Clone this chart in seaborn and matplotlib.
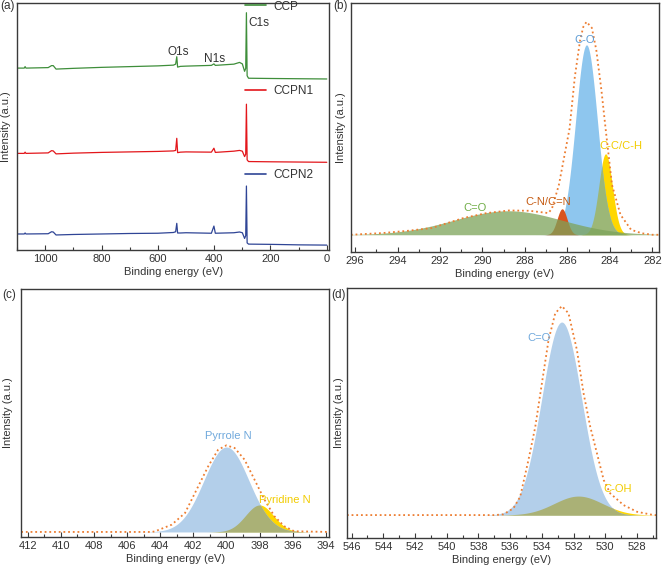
import numpy as np
import pandas as pd
import matplotlib
matplotlib.use('Agg')
import matplotlib.pyplot as plt
from matplotlib.ticker import MultipleLocator
from matplotlib.lines import Line2D
from matplotlib.legend import Legend
import seaborn as sns

# ---- (a) survey spectra (stacked, a.u.) ----
be_survey = [1100, 1075, 1072, 1069, 990, 978, 972, 962, 900, 800, 700, 600, 545, 537, 533,
             530, 520, 500, 410, 401, 396, 330, 310, 300, 292, 288, 285.5, 283, 278, 200, 100, 0]
ccp = [73.6, 73.6, 74.2, 73.6, 73.8, 74.6, 74.6, 73.2, 73.5, 73.9, 74.2, 74.5, 74.8, 75.2, 78.2,
       74.0, 74.3, 74.4, 74.7, 75.3, 74.7, 75.2, 75.9, 75.3, 72.3, 73.5, 96.0, 70.5, 69.5, 69.4, 69.3, 69.2]
ccpn1 = [39.1, 39.1, 39.6, 39.1, 39.3, 40.2, 40.1, 38.9, 39.2, 39.5, 39.7, 39.9, 40.1, 40.3, 45.2,
         39.4, 39.6, 39.7, 39.6, 41.2, 39.5, 40.0, 40.3, 40.0, 37.8, 38.8, 59.0, 36.5, 35.8, 35.7, 35.6, 35.5]
ccpn2 = [6.5, 6.5, 6.9, 6.5, 6.6, 7.4, 7.3, 6.1, 6.3, 6.5, 6.7, 6.8, 7.1, 7.4, 10.8,
         6.9, 6.9, 7.0, 6.8, 9.7, 6.8, 7.0, 7.3, 7.0, 4.7, 5.8, 25.9, 2.9, 2.4, 2.3, 2.1, 2.0]
survey_names = ['CCP', 'CCPN1', 'CCPN2']
survey_colors = ['#3e8e3a', '#e3161b', '#2f4596']

# ---- (b) C1s fit: center (eV), height, FWHM ----
c1s_names = ['C-C/C-H', 'C-O', 'C-N/C=N', 'C=O']
c1s_center = [284.2, 285.1, 286.25, 288.8]
c1s_height = [81, 190, 26, 24]
c1s_fwhm = [0.75, 1.2, 0.55, 6.0]
c1s_env_be = [296.2, 294.7, 293.5, 292.4, 290.9, 289.8, 288.75, 287.8, 286.9, 286.73, 286.4,
              286.15, 285.9, 285.65, 285.4, 285.25, 285.1, 284.85, 284.64, 284.4, 284.2, 283.9,
              283.5, 283.0, 282.5, 282.0, 281.7]
c1s_env = [0, 1.7, 4, 6.7, 16.7, 21.7, 24.3, 24, 21.7, 26, 50, 78, 106, 158, 195, 208, 213,
           207, 185, 145, 106, 50, 20, 5, 1.5, 0, 0]

# ---- (c) N1s fit ----
n1s_names = ['Pyrrole N', 'Pyridine N']
n1s_center = [400.0, 398.0]
n1s_height = [85, 27]
n1s_fwhm = [3.2, 2.0]
n1s_env_be = [412.4, 404.5, 404.3, 403.3, 402.5, 401.7, 401.1, 400.5, 400.0, 399.5, 398.9,
              398.3, 397.7, 397.1, 396.5, 395.9, 393.8]
n1s_env = [0, 0, 0.7, 7.3, 19, 45.7, 65.7, 82.3, 86.7, 84, 72.3, 52.3, 32.3, 15.7, 5.7, 0.7, 0]

# ---- (d) O1s fit ----
o1s_names = ['C=O', 'C-OH']
o1s_center = [532.75, 531.7]
o1s_height = [193, 19]
o1s_fwhm = [2.95, 3.6]
o1s_env_be = [546.3, 537.0, 536.43, 535.8, 535.37, 534.85, 534.42, 534.0, 533.58, 533.16,
              532.74, 532.32, 531.79, 531.37, 530.95, 530.42, 530.1, 529.69, 528.85, 528.0,
              526.95, 526.8]
o1s_env = [0, 0, 0.7, 6.7, 18.3, 55, 88, 131.7, 175, 201.7, 209, 201.7, 165, 121.7, 88.3,
           55, 35, 21.7, 10, 3.3, 0, 0]

sns.set_theme(style='ticks')
plt.rcParams['font.family'] = ['Liberation Sans', 'DejaVu Sans']
plt.rcParams['axes.edgecolor'] = '#3a3a3a'
plt.rcParams['axes.linewidth'] = 1.0

fig = plt.figure(figsize=(6.62, 5.67), dpi=100)
ax_a = fig.add_axes([0.026, 0.559, 0.471, 0.436])
ax_b = fig.add_axes([0.530, 0.556, 0.465, 0.439])
ax_c = fig.add_axes([0.032, 0.053, 0.465, 0.437])
ax_d = fig.add_axes([0.524, 0.051, 0.467, 0.441])

FS = 8


def gauss(x, c, h, w):
    return h * np.exp(-4 * np.log(2) * (x - c) ** 2 / w ** 2)


def style(ax, xlim, ylim, ylab_x):
    ax.set_xlim(*xlim)
    ax.set_ylim(*ylim)
    ax.set_yticks([])
    ax.xaxis.set_major_locator(MultipleLocator(200 if xlim[0] > 1000 else 2))
    ax.xaxis.set_minor_locator(MultipleLocator(100 if xlim[0] > 1000 else 1))
    ax.tick_params(axis='x', which='major', direction='in', length=3.5, width=0.8,
                   labelsize=FS, pad=3, colors='#3a3a3a', labelcolor='#333333')
    ax.tick_params(axis='x', which='minor', direction='in', length=2, width=0.8,
                   colors='#3a3a3a')
    ax.set_xlabel('Binding energy (eV)', fontsize=FS, labelpad=2, color='#333333')
    ax.set_ylabel('Intensity (a.u.)', fontsize=FS, color='#333333')
    ax.yaxis.set_label_coords(ylab_x, 0.5)


# (a)
df_a = pd.DataFrame({'be': be_survey, 'CCP': ccp, 'CCPN1': ccpn1, 'CCPN2': ccpn2})
for name, col in zip(survey_names, survey_colors):
    sns.lineplot(data=df_a, x='be', y=name, color=col, lw=0.9, ax=ax_a, sort=False)
style(ax_a, (1100, -8), (0, 100), -0.019)
leg_y = [0.985, 0.642, 0.304]
for name, col, ly in zip(survey_names, survey_colors, leg_y):
    lg = Legend(ax_a, [Line2D([], [], color=col, lw=1.2)], [name],
                loc='center left', bbox_to_anchor=(0.73, ly), frameon=False,
                fontsize=FS + 0.5, handlelength=1.8, handletextpad=0.6,
                borderpad=0, borderaxespad=0, labelcolor='#333333')
    ax_a.add_artist(lg)
ax_a.text(527, 80, 'O1s', fontsize=FS + 0.5, ha='center', va='center', color='#333333')
ax_a.text(398, 77.3, 'N1s', fontsize=FS + 0.5, ha='center', va='center', color='#333333')
ax_a.text(278, 91.8, 'C1s', fontsize=FS + 0.5, ha='left', va='center', color='#333333')

# (b)
xb = np.linspace(296.2, 281.7, 700)
comp_b = [gauss(xb, c, h, w) for c, h, w in zip(c1s_center, c1s_height, c1s_fwhm)]
ax_b.fill_between(xb, 0, comp_b[0], color='#ffd700', lw=0)
ax_b.fill_between(xb, 0, comp_b[1], color='#8ec6ee', lw=0)
ax_b.fill_between(xb, 0, np.minimum(comp_b[0], comp_b[1]), color='#9cb777', lw=0)
ax_b.fill_between(xb, 0, comp_b[2], color='#d9541e', lw=0)
ax_b.fill_between(xb, 0, comp_b[3], color='#7da35a', alpha=0.75, lw=0)
sns.lineplot(x=c1s_env_be, y=c1s_env, ax=ax_b, color='#ed7d31', lw=1.3,
             linestyle=(0, (1, 1.6)), sort=False)
style(ax_b, (296.2, 281.7), (-17, 232), -0.015)
ax_b.text(285.2, 195, 'C-O', color='#5b9bd5', fontsize=FS, ha='center', va='center')
ax_b.text(283.5, 89, 'C-C/C-H', color='#f2cc00', fontsize=FS, ha='center', va='center')
ax_b.text(286.9, 33, 'C-N/C=N', color='#c55a11', fontsize=FS, ha='center', va='center')
ax_b.text(290.35, 26.7, 'C=O', color='#70ad47', fontsize=FS, ha='center', va='center')

# (c)
xc = np.linspace(412.4, 393.8, 700)
comp_c = [gauss(xc, c, h, w) for c, h, w in zip(n1s_center, n1s_height, n1s_fwhm)]
ax_c.fill_between(xc, 0, comp_c[1], color='#ffd700', lw=0)
ax_c.fill_between(xc, 0, comp_c[0], color='#b3cfea', lw=0)
ax_c.fill_between(xc, 0, np.minimum(comp_c[0], comp_c[1]), color='#aab176', lw=0)
sns.lineplot(x=n1s_env_be, y=n1s_env, ax=ax_c, color='#ed7d31', lw=1.3,
             linestyle=(0, (1, 1.6)), sort=False)
style(ax_c, (412.4, 393.8), (-5, 243), -0.026)
ax_c.text(399.9, 95.7, 'Pyrrole N', color='#6fa8dc', fontsize=FS, ha='center', va='center')
ax_c.text(396.5, 32.3, 'Pyridine N', color='#f2cc00', fontsize=FS, ha='center', va='center')

# (d)
xd = np.linspace(546.3, 526.8, 700)
comp_d = [gauss(xd, c, h, w) for c, h, w in zip(o1s_center, o1s_height, o1s_fwhm)]
ax_d.fill_between(xd, 0, comp_d[1], color='#ffd700', lw=0)
ax_d.fill_between(xd, 0, comp_d[0], color='#b3cfea', lw=0)
ax_d.fill_between(xd, 0, np.minimum(comp_d[0], comp_d[1]), color='#aab176', lw=0)
sns.lineplot(x=o1s_env_be, y=o1s_env, ax=ax_d, color='#ed7d31', lw=1.3,
             linestyle=(0, (1, 1.6)), sort=False)
style(ax_d, (546.3, 526.8), (-23, 227), -0.01)
ax_d.text(534.2, 177, 'C=O', color='#6fa8dc', fontsize=FS, ha='center', va='center')
ax_d.text(529.2, 25.7, 'C-OH', color='#f2cc00', fontsize=FS, ha='center', va='center')

for lab, (px, py) in zip(['(a)', '(b)', '(c)', '(d)'],
                         [(0.0, 0.989), (0.503, 0.989), (0.004, 0.48), (0.5, 0.48)]):
    fig.text(px, py, lab, fontsize=FS + 0.5, ha='left', va='center', color='#333333')

fig.savefig('out.png', dpi=100)
